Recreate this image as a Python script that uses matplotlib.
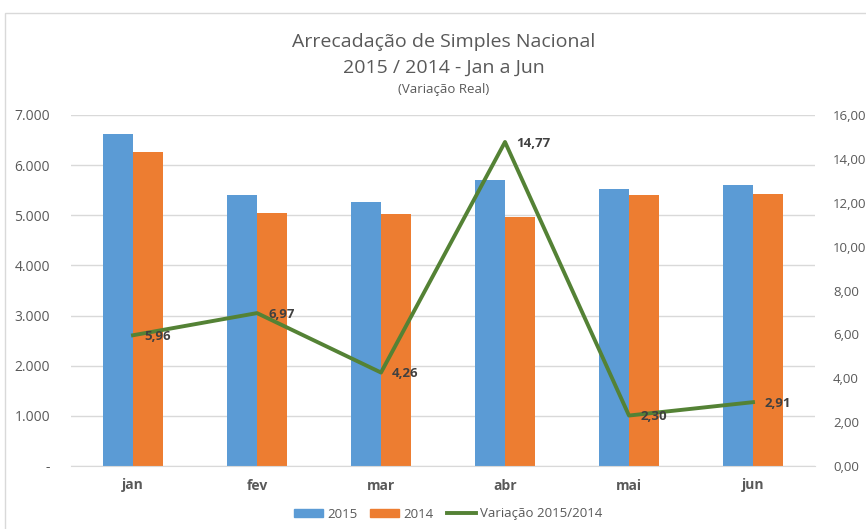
import matplotlib.pyplot as plt
import matplotlib.patches as mpatches
import matplotlib.ticker as mticker
from matplotlib.lines import Line2D
import numpy as np

plt.rcParams['font.family'] = ['Open Sans', 'DejaVu Sans']

meses = ['jan', 'fev', 'mar', 'abr', 'mai', 'jun']
arrec_2015 = [6630, 5395, 5255, 5710, 5530, 5595]
arrec_2014 = [6260, 5045, 5035, 4965, 5400, 5430]
variacao = [5.96, 6.97, 4.26, 14.77, 2.30, 2.91]
var_labels = ['5,96', '6,97', '4,26', '14,77', '2,30', '2,91']

azul = '#5b9bd5'
laranja = '#ed7d31'
verde = '#548235'
cinza = '#595959'

x = np.arange(len(meses))
width = 0.24

fig = plt.figure(figsize=(8.66, 5.29), dpi=100)
# moldura do gráfico
fig.patches.append(mpatches.Rectangle((5 / 866, -0.01), 1.0, 1 - 13 / 529 + 0.01,
                                      transform=fig.transFigure, fill=False,
                                      edgecolor='#d9d9d9', lw=1.0))

ax = fig.add_axes([71 / 866, 63 / 529, 744 / 866, 351 / 529])
ax.bar(x - width / 2, arrec_2015, width, color=azul, label='2015', zorder=2)
ax.bar(x + width / 2, arrec_2014, width, color=laranja, label='2014', zorder=2)
ax.set_xlim(-0.5, len(meses) - 0.5)
ax.set_ylim(0, 7000)
ax.set_yticks(np.arange(0, 7001, 1000))
ax.yaxis.set_major_formatter(mticker.FuncFormatter(
    lambda v, p: '-' if v == 0 else f'{int(v):,}'.replace(',', '.')))
ax.grid(axis='y', color='#d9d9d9', lw=1, zorder=0)
ax.set_xticks(x)
ax.set_xticklabels(meses, fontweight='bold', color=cinza, fontsize=10)
ax.tick_params(axis='x', length=0, pad=9)
ax.tick_params(axis='y', length=0, pad=15, labelcolor=cinza, labelsize=10)
for s in ['top', 'left', 'right']:
    ax.spines[s].set_visible(False)
ax.spines['bottom'].set_color('#d9d9d9')

ax2 = ax.twinx()
ax2.plot(x, variacao, color=verde, lw=2.8, zorder=3)
ax2.set_ylim(0, 16)
ax2.set_yticks(np.arange(0, 16.1, 2))
ax2.yaxis.set_major_formatter(mticker.FuncFormatter(lambda v, p: f'{v:.2f}'.replace('.', ',')))
ax2.tick_params(axis='y', length=0, pad=13, labelcolor=cinza, labelsize=9.5)
for s in ax2.spines.values():
    s.set_visible(False)
for xi, v, lab in zip(x, variacao, var_labels):
    ax2.annotate(lab, (xi, v), xytext=(8, -1), textcoords='offset points',
                 ha='left', va='center', fontsize=9.5, fontweight='bold', color='#404040')

fig.text(0.512, 0.920, 'Arrecadação de Simples Nacional', ha='center', va='center',
         fontsize=14, color=cinza)
fig.text(0.512, 0.872, '2015 / 2014 - Jan a Jun', ha='center', va='center',
         fontsize=14, color=cinza)
fig.text(0.512, 0.831, '(Variação Real)', ha='center', va='center',
         fontsize=9.5, color=cinza)

handles = [mpatches.Patch(color=azul, label='2015'),
           mpatches.Patch(color=laranja, label='2014'),
           Line2D([0], [0], color=verde, lw=2.8, label='Variação 2015/2014')]
fig.legend(handles=handles, loc='center', bbox_to_anchor=(448 / 866, 1 - 514 / 529),
           ncol=3, frameon=False, fontsize=9.5, labelcolor=cinza,
           handlelength=2.2, handleheight=0.6, columnspacing=1.0, handletextpad=0.3)

fig.savefig('out.png', dpi=100)
